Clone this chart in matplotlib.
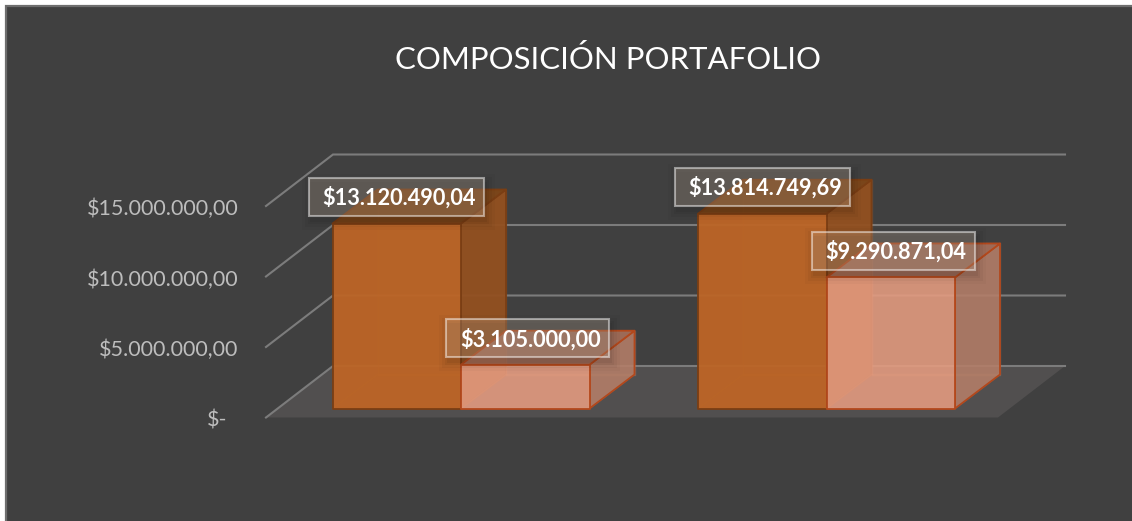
#!/usr/bin/env python3
"""Composicion portafolio: fake 3D clustered columns on a dark card."""
import matplotlib
matplotlib.use("Agg")
import matplotlib.pyplot as plt
from matplotlib.patches import Polygon, Rectangle

TITLE = "COMPOSICIÓN PORTAFOLIO"
GROUP_LEFT = [332.5, 698.0]
SERIES_A = [13120490.04, 13814749.69]
SERIES_B = [3105000.00, 9290871.04]
TICKS = [0, 5000000, 10000000, 15000000]

BG = "#404040"
PX_PER_DOLLAR = 14.1e-6
BASE_Y = 417.5       # pixel row of the floor front edge
BAR_W = 128.5
BAR_FRONT = 9.0      # bar bottom sits this far above the floor front edge
FLOOR_DX, FLOOR_DY = 67.0, 51.5
BAR_DX, BAR_DY = 45.0, 34.0

plt.rcParams["font.family"] = ["Lato", "DejaVu Sans"]


def money(v):
    if v == 0:
        return "$-"
    s = f"{v:,.2f}".replace(",", "_").replace(".", ",").replace("_", ".")
    return "$" + s


def vy(v, floor=BASE_Y):
    return floor - v * PX_PER_DOLLAR


def poly(ax, pts, fc, ec, alpha, lw=1.3, z=3):
    r, g, b, _ = matplotlib.colors.to_rgba(fc)
    ax.add_patch(Polygon(pts, closed=True, facecolor=(r, g, b, alpha), edgecolor=ec,
                         linewidth=lw, joinstyle="round", zorder=z))


def draw_bar(ax, x0, value, st, z):
    x1 = x0 + BAR_W
    y0 = BASE_Y - BAR_FRONT
    yt = vy(value, y0)
    dx, dy = BAR_DX, BAR_DY
    a = st["alpha"]
    inner = matplotlib.colors.to_rgba(st["inner"], 0.22)
    # back, left and floor faces first so they show through the front
    poly(ax, [(x0 + dx, y0 - dy), (x1 + dx, y0 - dy), (x1 + dx, yt - dy), (x0 + dx, yt - dy)],
         st["front"], inner, 0.06, lw=1.0, z=z)
    poly(ax, [(x0, y0), (x0 + dx, y0 - dy), (x1 + dx, y0 - dy), (x1, y0)],
         st["front"], inner, 0.06, lw=1.0, z=z)
    poly(ax, [(x1, y0), (x1 + dx, y0 - dy), (x1 + dx, yt - dy), (x1, yt)],
         st["side"], st["edge"], a, z=z + 1)
    poly(ax, [(x0, yt), (x0 + dx, yt - dy), (x1 + dx, yt - dy), (x1, yt)],
         st["top"], st["edge"], a, z=z + 1)
    poly(ax, [(x0, y0), (x1, y0), (x1, yt), (x0, yt)],
         st["front"], st["edge"], a, z=z + 2)


def draw_label(ax, cx, top, w, text):
    h = 38.0
    x0 = cx - w / 2
    # soft shadow under the box, offset down and right
    for grow, al in [(9, 0.025), (6, 0.035), (3, 0.045), (1, 0.05)]:
        ax.add_patch(Rectangle((x0 + 2 - grow, top + 5 - grow), w + 2 * grow, h + 2 * grow,
                               facecolor=(0, 0, 0, al), edgecolor="none", zorder=40))
    ax.add_patch(Rectangle((x0, top), w, h, facecolor=(1, 0.9, 0.8, 0.2),
                           edgecolor=(1, 1, 1, 0.48), linewidth=1.5, zorder=41))
    ax.text(cx + 3, top + h / 2 + 1, text, color="white", fontsize=15.7, fontweight="bold",
            ha="center", va="center", zorder=42)


def main():
    fig = plt.figure(figsize=(11.32, 5.21), dpi=100, facecolor="white")
    ax = fig.add_axes([0, 0, 1, 1])
    ax.set_xlim(0, 1132)
    ax.set_ylim(521, 0)
    ax.axis("off")

    # card runs off the right and bottom edges, so only two borders show
    ax.add_patch(Rectangle((5.5, 5.5), 1140, 530, facecolor=BG, edgecolor="#6e6e6e",
                           linewidth=1.6, zorder=0))
    ax.text(608, 59.5, TITLE, color="white", fontsize=22.4, ha="center", va="center")

    # floor and grid
    fx0, fx1 = 266.0, 998.0
    poly(ax, [(fx0, BASE_Y), (fx0 + FLOOR_DX, BASE_Y - FLOOR_DY),
              (fx1 + FLOOR_DX, BASE_Y - FLOOR_DY), (fx1, BASE_Y)],
         "#514f4f", "none", 1.0, lw=0, z=1)
    for t in TICKS:
        y = vy(t)
        ax.plot([fx0, fx0 + FLOOR_DX, fx1 + FLOOR_DX], [y, y - FLOOR_DY, y - FLOOR_DY],
                color="#7c7c7c", linewidth=1.5, zorder=2, solid_joinstyle="miter")
        ax.text(238.5 if t else 227.5, y + 3, money(t), color="#bdbdbd",
                fontsize=15.5, ha="right", va="center")

    dark = {"front": "#bd6526", "side": "#935020", "top": "#7d4618", "edge": "#7a3e14",
            "inner": "#d06a20", "alpha": 0.95}
    light = {"front": "#e59c80", "side": "#b47e68", "top": "#a8705a", "edge": "#b3481c",
             "inner": "#f4a587", "alpha": 0.88}

    for i, left in enumerate(GROUP_LEFT):
        draw_bar(ax, left, SERIES_A[i], dark, 4 + i * 10)
        draw_bar(ax, left + BAR_W, SERIES_B[i], light, 8 + i * 10)

    # boxes are centred near the top of each column
    for i, left in enumerate(GROUP_LEFT):
        ya = vy(SERIES_A[i], BASE_Y - BAR_FRONT)
        yb = vy(SERIES_B[i], BASE_Y - BAR_FRONT)
        draw_label(ax, left + 64, ya - 46, 175, money(SERIES_A[i]))
        draw_label(ax, left + BAR_W + 66.5, yb - 45.5, 163, money(SERIES_B[i]))

    fig.savefig("out.png", dpi=100, facecolor="white")


if __name__ == "__main__":
    main()
